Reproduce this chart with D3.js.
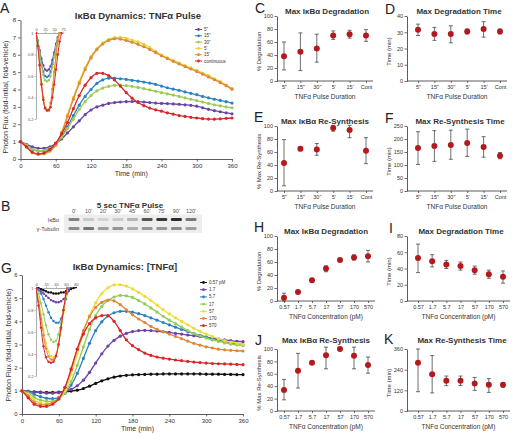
<!DOCTYPE html>
<html><head><meta charset="utf-8">
<script src="https://cdn.jsdelivr.net/npm/d3@7"></script>
<style>
body{margin:0;background:#fff;}
svg{display:block;font-family:"Liberation Sans",Arial,sans-serif;}
</style></head><body>
<svg id="c" width="514" height="434"></svg>
<script>
// ---------- DATA ----------
const tMain = [0,10,20,30,40,50,60,70,80,90,100,110,120,130,140,150,160,170,180,190,200,210,220,230,240,250,260,270,280,290,300,310,320,330,340,350,360];
const timeTicks = [0,60,120,180,240,300,360];

// Panel A: TNFα pulse durations
const pulseLabels = ['5"','15"','30"',"5'","15'","continuous"];
const pulseColors = ["#6a44a4","#2b82c8","#9ccb54","#e8d532","#e08838","#d6282b"];
const A_5s   = [1.0,0.85,0.7,0.62,0.62,0.7,0.88,1.15,1.5,1.85,2.2,2.55,2.82,3.0,3.1,3.2,3.25,3.28,3.3,3.31,3.3,3.28,3.25,3.22,3.2,3.19,3.17,3.15,3.12,3.09,3.04,2.95,2.86,2.78,2.72,2.66,2.6];
const A_15s  = [1.0,0.8,0.56,0.46,0.48,0.6,0.85,1.3,1.85,2.5,3.1,3.6,4.0,4.35,4.55,4.65,4.65,4.62,4.58,4.53,4.48,4.43,4.37,4.3,4.2,4.1,4.02,3.95,3.86,3.78,3.7,3.6,3.52,3.44,3.37,3.3,3.22];
const A_30s  = [1.0,0.8,0.56,0.48,0.5,0.62,0.85,1.25,1.75,2.3,2.85,3.3,3.65,3.92,4.08,4.18,4.24,4.25,4.22,4.18,4.12,4.05,3.98,3.9,3.82,3.75,3.68,3.6,3.52,3.44,3.36,3.28,3.2,3.12,3.06,3.0,2.95];
const A_5m   = [1.0,0.7,0.36,0.26,0.3,0.45,0.8,1.55,2.55,3.55,4.45,5.25,5.9,6.35,6.68,6.88,6.98,7.0,6.95,6.85,6.74,6.6,6.42,6.2,5.98,5.82,5.68,5.52,5.38,5.24,5.1,4.95,4.8,4.62,4.45,4.25,4.05];
const A_15m  = [1.0,0.7,0.37,0.28,0.31,0.46,0.8,1.5,2.45,3.45,4.35,5.15,5.82,6.3,6.62,6.82,6.92,6.9,6.82,6.72,6.6,6.46,6.3,6.12,5.94,5.78,5.62,5.47,5.32,5.18,5.03,4.88,4.72,4.56,4.4,4.22,4.02];
const A_cont = [1.0,0.7,0.4,0.3,0.35,0.55,0.92,1.45,2.1,2.9,3.65,4.25,4.68,4.93,4.93,4.8,4.55,4.2,3.82,3.5,3.25,3.07,2.93,2.83,2.75,2.66,2.58,2.5,2.45,2.4,2.36,2.32,2.3,2.29,2.31,2.34,2.36];

// Panel A inset (first 70 min)
const tInsetA = [0,5,10,15,20,25,30,35,40,45,50,55,60,65,70];
const iA_5s   = [1.0,0.93,0.84,0.76,0.7,0.66,0.65,0.66,0.69,0.75,0.82,0.9,0.96,1.02,1.08];
const iA_15s  = [1.0,0.92,0.82,0.72,0.64,0.6,0.59,0.6,0.64,0.71,0.8,0.88,0.95,1.01,1.07];
const iA_30s  = [1.0,0.92,0.81,0.7,0.61,0.56,0.55,0.56,0.6,0.68,0.78,0.87,0.95,1.01,1.07];
const iA_5m   = [1.0,0.88,0.7,0.52,0.38,0.3,0.28,0.29,0.35,0.47,0.62,0.77,0.9,1.0,1.1];
const iA_15m  = [1.0,0.88,0.71,0.53,0.4,0.31,0.28,0.29,0.35,0.48,0.64,0.8,0.93,1.02,1.1];
const iA_cont = [1.0,0.88,0.7,0.52,0.38,0.3,0.28,0.28,0.31,0.4,0.52,0.66,0.8,0.92,1.0];

// Panel B: western blot
const blotLanes = ["0'","10'","20'","30'","45'","60'","75'","90'","120'"];
const blotIkba  = [0.55,0.2,0.12,0.16,0.3,0.8,0.95,1.0,0.6];
const blotTub   = [0.5,0.62,0.42,0.46,0.35,0.45,0.45,0.5,0.42];

// Panel G: TNFα concentrations
const concLabels = ["0.57 pM","1.7","5.7","17","57","170","570"];
const concColors = ["#111111","#7040a8","#2d80c8","#92cc5c","#f0db30","#e0863a","#d8262a"];
const G_057 = [1.0,0.98,0.96,0.94,0.93,0.93,0.94,0.96,0.99,1.03,1.1,1.2,1.32,1.43,1.52,1.59,1.64,1.67,1.69,1.7,1.71,1.72,1.72,1.73,1.73,1.73,1.73,1.73,1.73,1.73,1.72,1.72,1.72,1.71,1.71,1.7,1.7];
const G_1_7 = [1.0,0.98,0.95,0.92,0.9,0.9,0.92,0.97,1.06,1.22,1.46,1.8,2.2,2.6,2.93,3.18,3.36,3.48,3.56,3.6,3.61,3.6,3.58,3.55,3.52,3.48,3.45,3.41,3.38,3.34,3.3,3.27,3.23,3.2,3.17,3.14,3.12];
const G_5_7 = [1.0,0.95,0.85,0.75,0.68,0.66,0.72,0.9,1.25,1.75,2.4,3.05,3.6,3.98,4.23,4.37,4.43,4.43,4.4,4.33,4.25,4.15,4.05,3.95,3.85,3.75,3.65,3.56,3.48,3.4,3.33,3.26,3.2,3.13,3.08,3.03,3.0];
const G_17  = [1.0,0.9,0.72,0.6,0.55,0.56,0.66,0.92,1.4,2.1,2.9,3.65,4.25,4.65,4.9,5.05,5.12,5.1,5.03,4.9,4.75,4.58,4.4,4.22,4.05,3.9,3.75,3.6,3.47,3.37,3.28,3.2,3.13,3.07,3.02,2.98,2.95];
const G_57  = [1.0,0.85,0.6,0.48,0.45,0.5,0.65,1.0,1.7,2.6,3.5,4.25,4.8,5.2,5.45,5.57,5.58,5.52,5.4,5.25,5.08,4.9,4.7,4.5,4.32,4.15,4.0,3.85,3.7,3.57,3.45,3.35,3.25,3.17,3.1,3.05,3.0];
const G_170 = [1.0,0.78,0.5,0.4,0.4,0.48,0.7,1.15,1.9,2.8,3.6,4.2,4.6,4.82,4.92,4.88,4.72,4.5,4.28,4.1,3.95,3.78,3.65,3.55,3.45,3.35,3.25,3.15,3.05,2.97,2.9,2.85,2.8,2.77,2.75,2.73,2.72];
const G_570 = [1.0,0.7,0.42,0.33,0.33,0.42,0.65,1.15,1.95,2.8,3.45,3.9,4.15,4.25,4.25,4.0,3.6,3.2,2.95,2.78,2.63,2.53,2.46,2.41,2.37,2.33,2.3,2.27,2.24,2.22,2.2,2.18,2.17,2.16,2.15,2.14,2.13];

// Panel G inset (first 80 min)
const tInsetG = [0,5,10,15,20,25,30,35,40,45,50,55,60,65,70,75,80];
const iG_057 = [1.0,1.0,0.99,0.98,0.97,0.96,0.96,0.95,0.95,0.95,0.96,0.96,0.97,0.98,0.99,1.0,1.01];
const iG_1_7 = [1.0,0.99,0.97,0.95,0.93,0.91,0.89,0.88,0.87,0.87,0.88,0.9,0.93,0.97,1.01,1.05,1.1];
const iG_5_7 = [1.0,0.98,0.95,0.9,0.84,0.78,0.73,0.7,0.685,0.685,0.72,0.8,0.9,1.0,1.08,1.15,1.2];
const iG_17  = [1.0,0.95,0.86,0.76,0.66,0.58,0.53,0.51,0.52,0.58,0.68,0.8,0.92,1.02,1.1,1.15,1.2];
const iG_57  = [1.0,0.9,0.76,0.62,0.5,0.42,0.38,0.37,0.4,0.49,0.62,0.78,0.93,1.05,1.1,1.15,1.2];
const iG_170 = [1.0,0.88,0.72,0.57,0.45,0.38,0.35,0.35,0.39,0.48,0.63,0.8,0.95,1.05,1.1,1.15,1.2];
const iG_570 = [1.0,0.84,0.64,0.47,0.37,0.33,0.32,0.33,0.38,0.49,0.64,0.8,0.95,1.05,1.1,1.15,1.2];

// Right panels
const pulseCats = ['5"','15"','30"',"5'","15'","Cont"];
const concCats  = ["0.57","1.7","5.7","17","57","170","570"];
const C_mean = [38,45,50,70,72,70],  C_lo = [17,16,29,64,66,61],  C_hi = [60,74,72,77,78,79];
const D_mean = [31.5,29,29,30.5,32,30.5], D_lo = [28,25,23.5,29,27,29], D_hi = [35,33,34,32,36.5,32];
const E_mean = [43,65,64,97,94,62],  E_lo = [8,62,55,92,82,42],   E_hi = [79,68,73,101,101,82];
const F_mean = [165,173,177,185,169,136], F_lo = [102,114,122,133,130,124], F_hi = [228,232,234,238,209,148];
const H_mean = [5,14,32,50,63,67,69], H_lo = [0,12,30,45,61,63,60], H_hi = [12,16,34,54,65,71,78];
const I_mean = [53,49,45,43,38,33,30], I_lo = [35,42,40,38,33,28,22], I_hi = [70,57,50,48,43,38,37];
const J_mean = [34,65,78,90,100,89,74], J_lo = [18,37,76,68,99,68,61], J_hi = [51,93,80,103,101,103,87];
const K_mean = [280,213,175,175,160,152,152], K_lo = [112,105,147,148,120,108,138], K_hi = [360,322,203,203,195,188,165];

// ---------- DRAWING ----------
const svg = d3.select("#c");
const TXT = "#333";

function styleAxis(g, fs){
  g.selectAll(".domain").attr("stroke","#333").attr("stroke-width",0.8);
  g.selectAll(".tick line").attr("stroke","#333").attr("stroke-width",0.7);
  g.selectAll(".tick text").attr("fill",TXT).style("font-size",fs+"px");
}
function txt(x,y,s,o={}){
  const t = svg.append("text").attr("x",x).attr("y",y).text(s)
    .attr("fill",o.fill||TXT).style("font-size",(o.fs||7)+"px")
    .attr("text-anchor",o.anchor||"middle").attr("font-weight",o.fw||"normal");
  if(o.rot) t.attr("transform",`rotate(-90,${x},${y})`);
  return t;
}

let clipId = 0;
function linePanel(o){
  const g = svg.append("g");
  const x = d3.scaleLinear().domain([0,360]).range([o.x0,o.x1]);
  const y = d3.scaleLinear().domain([0,o.ymax]).range([o.yb,o.yt]);
  const ax = g.append("g").attr("transform",`translate(0,${o.yb})`)
    .call(d3.axisBottom(x).tickValues(timeTicks).tickSize(2.5).tickSizeOuter(0).tickPadding(2));
  const ay = g.append("g").attr("transform",`translate(${o.x0},0)`)
    .call(d3.axisLeft(y).ticks(o.ymax).tickSize(2.5).tickSizeOuter(0).tickPadding(2));
  styleAxis(ax,6); styleAxis(ay,6);
  const line = d3.line().x(d=>x(d[0])).y(d=>y(d[1])).curve(d3.curveCatmullRom);
  o.series.forEach((s,k)=>{
    const pts = tMain.map((t,i)=>[t,s[i]]);
    g.append("path").datum(pts).attr("d",line).attr("fill","none")
      .attr("stroke",o.colors[k]).attr("stroke-width",1.3);
    g.selectAll(null).data(pts).join("circle").attr("cx",d=>x(d[0])).attr("cy",d=>y(d[1]))
      .attr("r",1.6).attr("fill",o.colors[k]);
  });
  // inset
  const ix = d3.scaleLinear().domain([0,o.inset.tmax]).range([o.inset.x0,o.inset.x1]);
  const iy = d3.scaleLinear().domain([0.2,1]).range([o.inset.yb,o.inset.yt]);
  const id = "clip"+(clipId++);
  g.append("clipPath").attr("id",id).append("rect")
    .attr("x",o.inset.x0).attr("y",o.inset.yt-1).attr("width",o.inset.x1-o.inset.x0+2).attr("height",o.inset.yb-o.inset.yt+2);
  const iax = g.append("g").attr("transform",`translate(0,${o.inset.yt})`)
    .call(d3.axisTop(ix).tickValues(o.inset.ticks).tickSize(1.5).tickSizeOuter(0).tickPadding(1));
  const iay = g.append("g").attr("transform",`translate(${o.inset.x0},0)`)
    .call(d3.axisLeft(iy).tickValues([0.2,0.4,0.6,0.8,1]).tickFormat(d=>d===1?"1":d3.format(".1f")(d)).tickSize(1.5).tickSizeOuter(0).tickPadding(1));
  [iax,iay].forEach(a=>{
    a.selectAll(".domain").attr("stroke","#777").attr("stroke-width",0.6);
    a.selectAll(".tick line").attr("stroke","#777").attr("stroke-width",0.5);
    a.selectAll(".tick text").attr("fill","#555").style("font-size","4px");
  });
  const il = d3.line().x(d=>ix(d[0])).y(d=>iy(d[1])).curve(d3.curveCatmullRom);
  const ig = g.append("g").attr("clip-path",`url(#${id})`);
  o.inset.series.forEach((s,k)=>{
    const pts = o.inset.t.map((t,i)=>[t,s[i]]);
    ig.append("path").datum(pts).attr("d",il).attr("fill","none")
      .attr("stroke",o.colors[k]).attr("stroke-width",1);
    ig.selectAll(null).data(pts).join("circle").attr("cx",d=>ix(d[0])).attr("cy",d=>iy(d[1]))
      .attr("r",1.2).attr("fill",o.colors[k]);
  });
  // legend
  o.labels.forEach((lab,k)=>{
    const ly = o.leg.y + k*o.leg.dy;
    g.append("line").attr("x1",o.leg.x).attr("x2",o.leg.x+7).attr("y1",ly).attr("y2",ly)
      .attr("stroke",o.colors[k]).attr("stroke-width",1);
    g.append("circle").attr("cx",o.leg.x+3.5).attr("cy",ly).attr("r",1.4).attr("fill",o.colors[k]);
    g.append("text").attr("x",o.leg.x+9).attr("y",ly+1.5).text(lab).attr("fill","#333").style("font-size","4.5px");
  });
  txt(o.titleX,o.titleY,o.title,{fs:9.5,fw:"bold"});
  txt((o.x0+o.x1)/2+5,o.xlabY,"Time (min)",{fs:7});
  txt(o.ylabX,o.ylabY,"Photon Flux (fold-initial, fold-vehicle)",{fs:7,rot:true});
}

linePanel({
  x0:20.5,x1:232,yb:159,yt:20,ymax:8,
  series:[A_5s,A_15s,A_30s,A_5m,A_15m,A_cont], colors:pulseColors, labels:pulseLabels,
  inset:{tmax:75,x0:36,x1:63.3,yb:119,yt:33,ticks:[0,25,50,75],t:tInsetA,
         series:[iA_5s,iA_15s,iA_30s,iA_5m,iA_15m,iA_cont]},
  leg:{x:195,y:29.5,dy:6.3},
  title:"IκBα Dynamics: TNFα Pulse", titleX:138, titleY:19,
  xlabY:176, ylabX:8, ylabY:97
});

linePanel({
  x0:22,x1:243,yb:414,yt:275,ymax:6,
  series:[G_057,G_1_7,G_5_7,G_17,G_57,G_170,G_570], colors:concColors, labels:concLabels,
  inset:{tmax:80,x0:36,x1:76,yb:376,yt:288,ticks:[0,20,40,60,80],t:tInsetG,
         series:[iG_057,iG_1_7,iG_5_7,iG_17,iG_57,iG_170,iG_570]},
  leg:{x:200,y:282.5,dy:7.2},
  title:"IκBα Dynamics: [TNFα]", titleX:125, titleY:270,
  xlabY:431, ylabX:11, ylabY:345
});

// Panel B blot
(function(){
  const bx = d3.scalePoint().domain(blotLanes).range([74,191]);
  txt(130,207.5,"5 sec TNFα Pulse",{fs:8,fw:"bold"});
  svg.append("g").selectAll("text").data(blotLanes).join("text")
    .attr("x",d=>bx(d)).attr("y",213).attr("text-anchor","middle").text(d=>d)
    .attr("fill","#555").style("font-size","5.5px");
  svg.append("rect").attr("x",64).attr("y",214.5).attr("width",138).attr("height",18.5).attr("fill","#ededed");
  const defs = svg.append("defs");
  defs.append("filter").attr("id","blur").append("feGaussianBlur").attr("stdDeviation",0.5);
  const rows = [{v:blotIkba,y:219.5,lab:"IκBα"},{v:blotTub,y:228.5,lab:"γ-Tubulin"}];
  rows.forEach(r=>{
    svg.append("g").attr("filter","url(#blur)").selectAll("rect").data(blotLanes).join("rect")
      .attr("x",d=>bx(d)-5.5).attr("y",r.y-1.4).attr("width",11).attr("height",2.8).attr("rx",1.2)
      .attr("fill","#1a1a1a").attr("opacity",(d,i)=>r.v[i]*0.9);
    txt(59,r.y+2,r.lab,{fs:5.5,anchor:"end",fill:"#444"});
  });
})();

// Right dot panels
function dotPanel(o){
  const g = svg.append("g");
  const x = d3.scalePoint().domain(o.cats).range([o.cx0,o.cx1]);
  const y = d3.scaleLinear().domain([0,o.ymax]).range([o.y0,o.yt]);
  const ay = g.append("g").attr("transform",`translate(${o.ax},0)`)
    .call(d3.axisLeft(y).tickValues(o.yticks).tickSize(2.5).tickSizeOuter(0).tickPadding(1.5));
  styleAxis(ay,5.5);
  const xa = g.append("g").attr("transform",`translate(0,${o.y0})`)
    .call(d3.axisBottom(x).tickSize(2).tickSizeOuter(0).tickPadding(2.5));
  xa.select(".domain").remove();
  styleAxis(xa,5.5);
  g.append("line").attr("x1",o.ax).attr("x2",o.cx1+7).attr("y1",o.y0).attr("y2",o.y0)
    .attr("stroke","#333").attr("stroke-width",0.8);
  o.cats.forEach((c,i)=>{
    const cx = x(c);
    const eb = g.append("g").attr("stroke","#4a4a4a").attr("stroke-width",0.8);
    eb.append("line").attr("x1",cx).attr("x2",cx).attr("y1",y(o.lo[i])).attr("y2",y(o.hi[i]));
    eb.append("line").attr("x1",cx-2).attr("x2",cx+2).attr("y1",y(o.lo[i])).attr("y2",y(o.lo[i]));
    eb.append("line").attr("x1",cx-2).attr("x2",cx+2).attr("y1",y(o.hi[i])).attr("y2",y(o.hi[i]));
    g.append("circle").attr("cx",cx).attr("cy",y(o.mean[i])).attr("r",3).attr("fill","#b3191d");
  });
  txt(o.titleX,o.titleY,o.title,{fs:8,fw:"bold"});
  txt(o.ax-16,(o.y0+o.yt)/2+3,o.ylab,{fs:6,rot:true});
  txt((o.ax+o.cx1+7)/2,o.y0+18,o.xlab,{fs:6.5});
  txt(o.lx,o.ly,o.letter,{fs:14,anchor:"start",fill:"#222"});
}

const L = {ax:277,cx0:284,cx1:366}, R = {ax:407,cx0:418,cx1:500};
const L7 = {ax:277,cx0:284,cx1:368}, R7 = {ax:407,cx0:418,cx1:503};
const row0 = {y0:81,yt:16,titleY:14};
const row1 = {y0:191,yt:126,titleY:124};
const row2 = {y0:301,yt:236,titleY:234};
const row3 = {y0:411,yt:349,titleY:343};

dotPanel({...L,...row0,cats:pulseCats,ymax:100,yticks:[0,20,40,60,80,100],mean:C_mean,lo:C_lo,hi:C_hi,
  title:"Max IκBα Degradation",titleX:327,ylab:"% Degradation",xlab:"TNFα Pulse Duration",letter:"C",lx:255,ly:13});
dotPanel({...R,...row0,cats:pulseCats,ymax:40,yticks:[0,10,20,30,40],mean:D_mean,lo:D_lo,hi:D_hi,
  title:"Max Degradation Time",titleX:459,ylab:"Time (min)",xlab:"TNFα Pulse Duration",letter:"D",lx:385,ly:14});
dotPanel({...L,...row1,cats:pulseCats,ymax:100,yticks:[0,20,40,60,80,100],mean:E_mean,lo:E_lo,hi:E_hi,
  title:"Max IκBα Re-Synthesis",titleX:325,ylab:"% Max Re-Synthesis",xlab:"TNFα  Pulse Duration",letter:"E",lx:254,ly:122});
dotPanel({...R,...row1,cats:pulseCats,ymax:250,yticks:[0,50,100,150,200,250],mean:F_mean,lo:F_lo,hi:F_hi,
  title:"Max Re-Synthesis Time",titleX:460,ylab:"Time (min)",xlab:"TNFα Pulse Duration",letter:"F",lx:385,ly:123});
dotPanel({...L7,...row2,cats:concCats,ymax:100,yticks:[0,20,40,60,80,100],mean:H_mean,lo:H_lo,hi:H_hi,
  title:"Max IκBα Degradation",titleX:326,ylab:"% Degradation",xlab:"TNFα  Concentration (pM)",letter:"H",lx:254,ly:232});
dotPanel({...R7,...row2,cats:concCats,ymax:80,yticks:[0,20,40,60,80],mean:I_mean,lo:I_lo,hi:I_hi,
  title:"Max Degradation Time",titleX:461,ylab:"Time  (min)",xlab:"TNFα  Concentration (pM)",letter:"I",lx:389,ly:233});
dotPanel({...L7,...row3,cats:concCats,ymax:100,yticks:[0,20,40,60,80,100],mean:J_mean,lo:J_lo,hi:J_hi,
  title:"Max IκBα Re-Synthesis",titleX:326,ylab:"% Max Re-Synthesis",xlab:"TNFα  Concentration (pM)",letter:"J",lx:255,ly:345});
dotPanel({...R7,...row3,cats:concCats,ymax:360,yticks:[0,120,240,360],mean:K_mean,lo:K_lo,hi:K_hi,
  title:"Max Re-Synthesis Time",titleX:462,ylab:"Time  (min)",xlab:"TNFα  Concentration (pM)",letter:"K",lx:384,ly:344});

// left letters
txt(0,12.5,"A",{fs:14,anchor:"start",fill:"#222"});
txt(1,211,"B",{fs:14,anchor:"start",fill:"#222"});
txt(1,273,"G",{fs:14,anchor:"start",fill:"#222"});
</script>
</body></html>
